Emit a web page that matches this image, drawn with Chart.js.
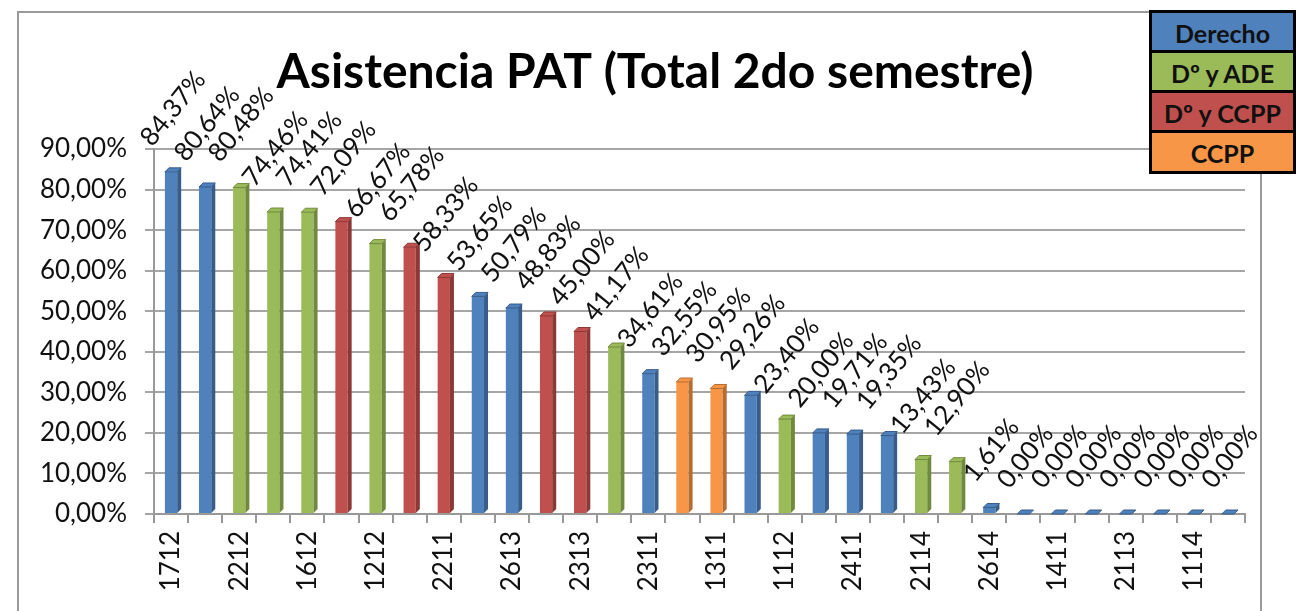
<!DOCTYPE html>
<html lang="es">
<head>
  <meta charset="UTF-8">
  <title>Asistencia PAT</title>
  <script src="https://cdn.jsdelivr.net/npm/chart.js@4.4.1/dist/chart.umd.min.js"></script>
  <style>
    body { margin: 0; background: #fff; font-family: Lato, sans-serif; }
    #wrap { position: relative; width: 1296px; height: 611px; overflow: hidden; }
    #frame { position: absolute; left: 17px; top: 11px; width: 1245px; height: 640px; border: 2px solid #9a9a9a; box-sizing: border-box; }
    #chart { position: absolute; left: 0; top: 0; }
    #legend { position: absolute; left: 1149px; top: 10px; width: 147px; border: 3px solid #000; box-sizing: border-box; }
    #legend div { height: 40px; line-height: 40px; text-align: center; font-weight: bold; font-size: 25px; color: #111; border-bottom: 3px solid #000; box-sizing: border-box; white-space: nowrap; }
    #legend div:last-child { border-bottom: none; height: 38px; }
  </style>
</head>
<body>
<div id="wrap">
  <div id="frame"></div>
  <canvas id="chart" width="1296" height="611"></canvas>
  <div id="legend"></div>
</div>
<script>
// grupos / titulaciones
const groupNames = ['Derecho', 'Dº y ADE', 'Dº y CCPP', 'CCPP'];
const groupColors = ['#4f81bd', '#9bbb59', '#c0504d', '#f79646'];
const groupSides = ['#385d8a', '#71893f', '#8c3836', '#b66d31'];

// solo se ve una etiqueta de cada dos en el eje
const labels = ['1712', '', '2212', '', '1612', '', '1212', '', '2211', '', '2613', '', '2313', '', '2311', '',
                '1311', '', '1112', '', '2411', '', '2114', '', '2614', '', '1411', '', '2113', '', '1114', ''];
const values = [84.37, 80.64, 80.48, 74.46, 74.41, 72.09, 66.67, 65.78, 58.33, 53.65, 50.79, 48.83, 45.00, 41.17,
                34.61, 32.55, 30.95, 29.26, 23.40, 20.00, 19.71, 19.35, 13.43, 12.90, 1.61, 0, 0, 0, 0, 0, 0, 0];
// 0 Derecho, 1 Dº y ADE, 2 Dº y CCPP, 3 CCPP
const groups = [0, 0, 1, 1, 1, 2, 1, 2, 2, 0, 0, 2, 2, 1, 0, 3, 3, 0, 1, 0, 0, 0, 1, 1, 0, 0, 0, 0, 0, 0, 0, 0];
const yTicks = [0, 10, 20, 30, 40, 50, 60, 70, 80, 90];

const fmt = v => v.toFixed(2).replace('.', ',') + '%';

// leyenda
const legendEl = document.getElementById('legend');
groupNames.forEach((n, i) => {
  const d = document.createElement('div');
  d.textContent = n;
  d.style.background = groupColors[i];
  legendEl.appendChild(d);
});

const DEPTH = 4;

// efecto 3D de las columnas
const bars3d = {
  id: 'bars3d',
  afterDatasetsDraw(chart) {
    const ctx = chart.ctx;
    chart.getDatasetMeta(0).data.forEach((bar, i) => {
      const { x, y, base, width } = bar.getProps(['x', 'y', 'base', 'width'], true);
      const l = x - width / 2, r = x + width / 2;
      ctx.save();
      ctx.fillStyle = groupSides[groups[i]];
      ctx.beginPath();
      ctx.moveTo(r, y); ctx.lineTo(r + DEPTH, y - DEPTH);
      ctx.lineTo(r + DEPTH, base - DEPTH); ctx.lineTo(r, base);
      ctx.closePath(); ctx.fill();
      ctx.fillStyle = groupColors[groups[i]];
      ctx.beginPath();
      ctx.moveTo(l, y); ctx.lineTo(l + DEPTH, y - DEPTH);
      ctx.lineTo(r + DEPTH, y - DEPTH); ctx.lineTo(r, y);
      ctx.closePath(); ctx.fill();
      ctx.strokeStyle = groupSides[groups[i]];
      ctx.lineWidth = 1;
      ctx.stroke();
      ctx.restore();
    });
  }
};

// etiquetas de valor giradas
const valueLabels = {
  id: 'valueLabels',
  afterDatasetsDraw(chart) {
    const ctx = chart.ctx;
    const a = 51 * Math.PI / 180;
    ctx.save();
    ctx.font = '26px Lato';
    ctx.fillStyle = '#111';
    ctx.textAlign = 'center';
    ctx.textBaseline = 'middle';
    chart.getDatasetMeta(0).data.forEach((bar, i) => {
      const t = fmt(values[i]);
      const w = ctx.measureText(t).width;
      const half = (w / 2) * Math.sin(a) + 10 * Math.cos(a);
      const cx = bar.x + 2;
      const cy = bar.y - DEPTH - 19 - half;
      ctx.save();
      ctx.translate(cx, cy);
      ctx.rotate(-a);
      ctx.fillText(t, 0, 0);
      ctx.restore();
    });
    ctx.restore();
  }
};

const titlePlugin = {
  id: 'bigTitle',
  afterDraw(chart) {
    const ctx = chart.ctx;
    ctx.save();
    ctx.font = 'bold 48px Lato';
    ctx.fillStyle = '#000';
    ctx.textAlign = 'center';
    ctx.textBaseline = 'alphabetic';
    ctx.fillText('Asistencia PAT (Total 2do semestre)', 655, 88);
    ctx.restore();
  }
};

new Chart(document.getElementById('chart'), {
  type: 'bar',
  data: {
    labels: labels,
    datasets: [{
      data: values,
      backgroundColor: groups.map(g => groupColors[g]),
      barPercentage: 0.9,
      categoryPercentage: 0.4
    }]
  },
  plugins: [bars3d, valueLabels, titlePlugin],
  options: {
    responsive: false,
    animation: false,
    layout: { padding: { top: 149, right: 51, left: 0, bottom: 0 } },
    plugins: { legend: { display: false }, tooltip: { enabled: false } },
    scales: {
      x: {
        afterFit(s) { s.height = 611 - 514; },
        grid: { display: true, offset: true, drawOnChartArea: false, drawTicks: true, tickLength: 9, color: '#999', lineWidth: 2 },
        border: { color: '#999', width: 2 },
        ticks: { autoSkip: false, maxRotation: 90, minRotation: 90, padding: 8, color: '#111', font: { family: 'Lato', size: 26 } }
      },
      y: {
        min: 0,
        max: 90,
        afterFit(s) { s.width = 154; },
        afterBuildTicks(s) { s.ticks = yTicks.map(v => ({ value: v })); },
        grid: { color: '#a6a6a6', lineWidth: 2, tickLength: 9 },
        border: { color: '#999', width: 2 },
        ticks: { padding: 18, color: '#111', font: { family: 'Lato', size: 26 }, callback: v => fmt(v) }
      }
    }
  }
});
</script>
</body>
</html>
